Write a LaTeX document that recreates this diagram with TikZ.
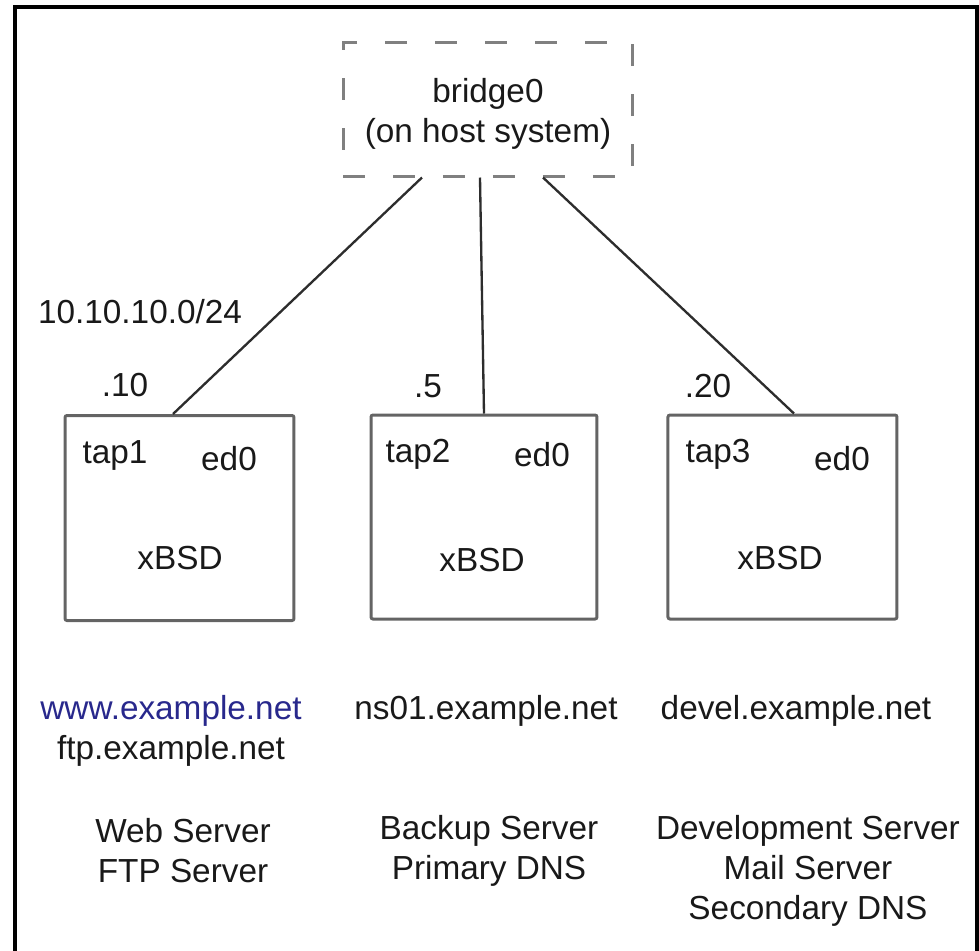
\documentclass[tikz,border=0pt]{standalone}
\usepackage{fontspec}
\setmainfont{Liberation Sans}
\definecolor{boxgray}{RGB}{100,100,100}
\definecolor{dashgray}{RGB}{128,128,128}
\definecolor{linkgray}{RGB}{45,45,45}
\definecolor{txt}{RGB}{25,25,25}
\definecolor{wwwblue}{RGB}{40,40,140}
\tikzset{
  lbl/.style={inner sep=0pt, text=txt, font=\fontsize{10}{12}\selectfont, align=center},
  hostbox/.style={draw=boxgray, line width=0.9pt, inner sep=0pt, minimum width=68.7pt, minimum height=61.5pt, rounded corners=0.6pt},
  bridgebox/.style={draw=dashgray, line width=0.9pt, dash pattern=on 6.5pt off 8.5pt, inner sep=0pt, minimum width=87pt, minimum height=40.2pt},
  link/.style={draw=linkgray, line width=0.7pt}
}
\begin{document}
\begin{tikzpicture}[x=0.3pt, y=-0.3pt]
\useasboundingbox (0,0) rectangle (979,951);
% outer frame (open at the bottom)
\draw[line width=1pt, black] (15,960) -- (15,7) -- (977,7) -- (977,960);

% bridge
\node[bridgebox] (bridge) at (488,109) {};
\node[lbl] (bname) at (488,114) {bridge0\\(on host system)};

% host boxes
\node[hostbox] (box1) at (179.5,518) {};
\node[hostbox, minimum width=67.8pt, minimum height=61.2pt] (box2) at (484,517) {};
\node[hostbox, minimum height=61.2pt] (box3) at (782.5,517) {};

% connectors
\draw[link] ([xshift=-19.8pt]bridge.south) -- ([xshift=-1.95pt]box1.north);
\draw[link] ([xshift=-2.4pt]bridge.south) -- (box2.north);
\draw[link] ([xshift=16.5pt]bridge.south) -- ([xshift=3.45pt]box3.north);

% network labels
\node[lbl] (net) at (140,312) {10.10.10.0/24};
\node[lbl] (ip1) at (125,385) {.10};
\node[lbl] (ip2) at (428,386) {.5};
\node[lbl] (ip3) at (708,386) {.20};

% box contents
\node[lbl] (tap1) at (115,455) {tap1};
\node[lbl] (ed1) at (229,459) {ed0};
\node[lbl] (os1) at (180,558) {xBSD};
\node[lbl] (tap2) at (418,454) {tap2};
\node[lbl] (ed2) at (542,455) {ed0};
\node[lbl] (os2) at (482,560) {xBSD};
\node[lbl] (tap3) at (718,454) {tap3};
\node[lbl] (ed3) at (842,459) {ed0};
\node[lbl] (os3) at (780,558) {xBSD};

% host names
\node[lbl] (h1) at (171,731) {{\color{wwwblue}www.example.net}\\ftp.example.net};
\node[lbl] (h2) at (486,711) {ns01.example.net};
\node[lbl] (h3) at (796,711) {devel.example.net};

% roles
\node[lbl] (r1) at (183,851) {Web Server\\FTP Server};
\node[lbl] (r2) at (489,851) {Backup Server\\Primary DNS};
\node[lbl] (r3) at (808,871) {Development Server\\Mail Server\\Secondary DNS};
\end{tikzpicture}
\end{document}
